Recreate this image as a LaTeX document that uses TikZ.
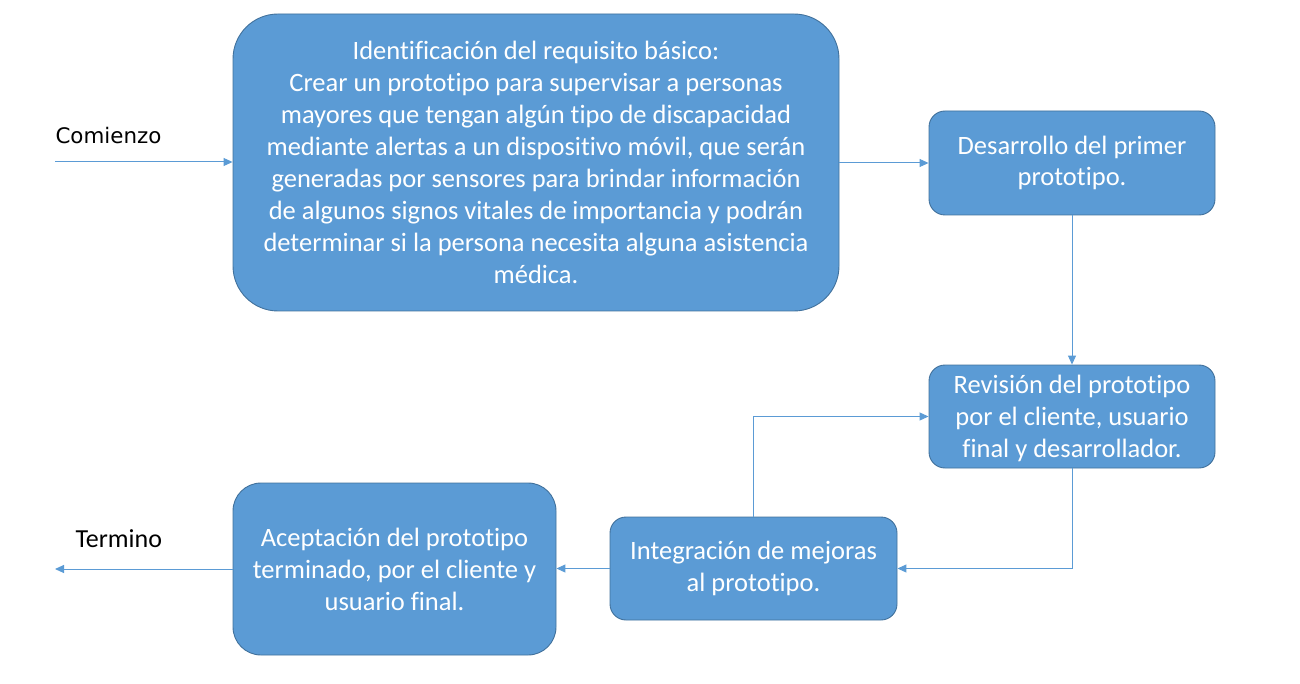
\documentclass[tikz,border=0pt]{standalone}
\usepackage{fontspec}
\setmainfont[Ligatures=NoCommon]{Carlito}
\newfontfamily\dejavu{DejaVu Sans}
\usetikzlibrary{arrows.meta}
\definecolor{boxfill}{HTML}{5B9BD5}
\definecolor{boxline}{HTML}{41719C}
\begin{document}
\begin{tikzpicture}[x=1pt,y=-1pt,
  box/.style={draw=boxline,line width=0.9pt,fill=boxfill,text=white,align=center,
    font=\fontsize{26.5}{32}\selectfont,inner sep=0pt},
  conn/.style={draw=boxfill,line width=1pt,-{Triangle[width=8pt,length=9pt]}},
  lbl/.style={font=\fontsize{26}{30}\selectfont,text=black}]
\useasboundingbox (0,0) rectangle (1300,684);
\node[box,minimum width=606pt,minimum height=297pt,rounded corners=45pt] (b1) at (536,162.5)
  {Identificación del requisito básico:\\Crear un prototipo para supervisar a personas\\mayores que tengan algún tipo de discapacidad\\mediante alertas a un dispositivo móvil, que serán\\generadas por sensores para brindar información\\de algunos signos vitales de importancia y podrán\\determinar si la persona necesita alguna asistencia\\médica.};
\node[box,minimum width=286pt,minimum height=104pt,rounded corners=16pt] (b2) at (1072,163)
  {\raisebox{-2pt}{\shortstack{Desarrollo del primer\\[6pt]prototipo.}}};
\node[box,minimum width=286pt,minimum height=103pt,rounded corners=16pt,text depth=0pt] (b3) at (1072,416.5)
  {Revisión del prototipo\\por el cliente, usuario\\final y desarrollador.};
\node[box,minimum width=287pt,minimum height=103pt,rounded corners=16pt] (b4) at (753.5,568.5)
  {Integración de mejoras\\al prototipo.};
\node[box,minimum width=323pt,minimum height=172pt,rounded corners=28pt] (b5) at (394.5,569)
  {Aceptación del prototipo\\terminado, por el cliente y\\usuario final.};
\coordinate (start) at (55,162);
\coordinate (finish) at (55,569);
\node[font=\dejavu\fontsize{21.4}{24}\selectfont,anchor=west] (lc) at (52,136) {Comienzo};
\node[lbl,anchor=west] (lt) at (72,539) {Termino};
\draw[conn] (start) -- (b1.west |- start);
\draw[conn] (b1.east |- b2.west) -- (b2.west);
\draw[conn] (b2.south) -- (b3.north);
\draw[conn] (b3.south) |- (b4.east);
\draw[conn] (b4.north) |- (b3.west);
\draw[conn] (b4.west) -- (b5.east |- b4.west);
\draw[conn] (b5.west |- finish) -- (finish);
\end{tikzpicture}
\end{document}
